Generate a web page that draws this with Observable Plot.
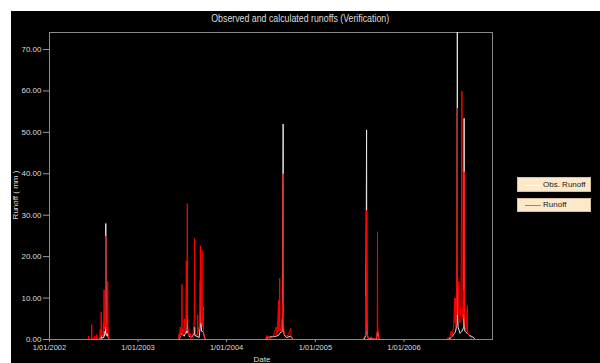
<!DOCTYPE html>
<html>
<head>
<meta charset="utf-8">
<script src="https://cdn.jsdelivr.net/npm/d3@7"></script>
<script src="https://cdn.jsdelivr.net/npm/@observablehq/plot@0.6"></script>
<style>
  html, body { margin:0; padding:0; background:#fff; width:600px; height:363px; overflow:hidden; }
  #panel { position:absolute; left:11px; top:11px; width:589px; height:352px; background:#000; overflow:hidden;
    font-family:"Liberation Sans",Arial,sans-serif; }
  #title { position:absolute; left:0; top:1px; width:578px; text-align:center; color:#ddd; font-size:11px; line-height:13px; white-space:nowrap; }
  #title span { display:inline-block; transform:scaleX(0.8); }
  #ylabel { position:absolute; left:4px; top:184px; transform:translate(-50%,-50%) rotate(-90deg); color:#ddd; font-size:8px; white-space:nowrap; }
  #xlabel { position:absolute; left:251px; top:344px; transform:translateX(-50%); color:#ddd; font-size:8px; line-height:9px; }
  .lg { position:absolute; left:506px; width:74px; background:#fde8c9; border:1px solid #d8bfa0; box-sizing:border-box; font-size:8px; color:#222; white-space:nowrap; }
  .lg span.sw { position:absolute; left:7px; width:16px; height:1px; }
  .lg span.tx { position:absolute; left:25px; }
  svg { position:absolute; left:0; top:0; }
</style>
</head>
<body>
<div id="panel">
  <div id="title"><span>Observed and calculated runoffs (Verification)</span></div>
  <div id="ylabel">Runoff ( mm )</div>
  <div id="xlabel">Date</div>
  <div class="lg" style="top:166px;height:15px;"><span class="sw" style="top:7px;background:#ffffff;"></span><span class="tx" style="top:2px;">Obs. Runoff</span></div>
  <div class="lg" style="top:187px;height:14px;"><span class="sw" style="top:6px;background:#ff5a5a;"></span><span class="tx" style="top:1px;">Runoff</span></div>
</div>
<script>
const yTicks = [0, 10, 20, 30, 40, 50, 60, 70];
const xTickYears = [2002, 2003, 2004, 2005, 2006];

const obsDates = [
"2002-01-01","2002-07-28","2002-07-29","2002-08-01","2002-08-02","2002-08-03","2002-08-13","2002-08-14","2002-08-15","2002-08-20",
"2002-08-21","2002-08-22","2002-08-23","2002-08-24","2002-08-26","2002-08-29","2002-08-31","2002-09-05",
"2003-06-20","2003-06-24","2003-07-01","2003-07-10","2003-07-19","2003-07-22","2003-07-23","2003-07-24","2003-07-27","2003-07-30",
"2003-08-10","2003-08-21","2003-08-22","2003-08-23","2003-09-10","2003-09-14","2003-09-15","2003-09-16","2003-09-20","2003-09-27",
"2003-10-02","2003-10-06",
"2004-06-10","2004-06-15","2004-07-23","2004-08-02","2004-08-07","2004-08-19","2004-08-21","2004-08-22","2004-08-23","2004-08-26",
"2004-09-05","2004-09-22","2004-10-01",
"2005-07-20","2005-07-28","2005-07-31","2005-08-01","2005-08-02","2005-08-06","2005-09-10","2005-09-14","2005-09-16","2005-09-20",
"2006-07-01","2006-07-15","2006-07-29","2006-08-02","2006-08-08","2006-08-09","2006-08-10","2006-08-12","2006-08-20","2006-08-28",
"2006-09-05","2006-09-06","2006-09-07","2006-09-09","2006-09-19","2006-09-28","2006-10-12","2006-10-17","2006-10-22","2006-12-31"
];
const obsValues = [
0,0,0.5,0.3,1.0,0.3,0.5,2,0.8,1.5,
28,6,3,1.5,0.8,1.5,0.5,0,
0,0.8,1.5,0.8,2,1.5,6,2,2,0.8,
0.5,1.5,3,1,0.5,3,14,5,2,1.8,
0.5,0,
0,0.5,0.8,1,1.5,2,52,3,2,1,
0.5,0.8,0,
0,1,50.6,5.4,1.5,0.3,0,2,1.5,0,
0,0.5,1.5,2,4,74.3,6,3,1.5,2,
3,53.4,4.2,2,1.5,1,0.6,0.3,0,0
];

const runDates = [
"2002-01-01","2002-06-10","2002-06-11","2002-06-12","2002-06-23","2002-06-24","2002-06-25","2002-07-05","2002-07-06","2002-07-07",
"2002-07-14","2002-07-15","2002-07-16","2002-07-28","2002-07-29","2002-07-30","2002-08-01","2002-08-02","2002-08-03","2002-08-06",
"2002-08-07","2002-08-10","2002-08-11","2002-08-12","2002-08-13","2002-08-14","2002-08-15","2002-08-17","2002-08-18","2002-08-19",
"2002-08-20","2002-08-21","2002-08-22","2002-08-23","2002-08-24","2002-08-25","2002-08-28","2002-08-29","2002-08-30","2002-08-31",
"2002-09-02","2002-09-05",
"2003-06-15","2003-06-20","2003-06-21","2003-06-24","2003-06-25","2003-06-30","2003-07-01","2003-07-02","2003-07-05","2003-07-08",
"2003-07-12","2003-07-13","2003-07-17","2003-07-19","2003-07-20","2003-07-22","2003-07-23","2003-07-24","2003-07-26","2003-07-27",
"2003-07-29","2003-08-05","2003-08-06","2003-08-15","2003-08-21","2003-08-22","2003-08-23","2003-08-25","2003-09-03","2003-09-04",
"2003-09-05","2003-09-13","2003-09-15","2003-09-16","2003-09-18","2003-09-22","2003-09-23","2003-09-25","2003-09-27","2003-09-28",
"2003-10-01","2003-10-05",
"2004-06-10","2004-06-15","2004-06-16","2004-06-25","2004-06-26","2004-07-10","2004-07-23","2004-07-24","2004-07-28","2004-08-02",
"2004-08-03","2004-08-06","2004-08-07","2004-08-08","2004-08-12","2004-08-15","2004-08-16","2004-08-20","2004-08-21","2004-08-22",
"2004-08-23","2004-08-25","2004-09-01","2004-09-10","2004-09-22","2004-09-23","2004-10-01",
"2005-07-15","2005-07-26","2005-07-27","2005-07-28","2005-07-29","2005-07-30","2005-07-31","2005-08-01","2005-08-02","2005-08-05",
"2005-08-10","2005-08-20","2005-08-22","2005-09-10","2005-09-13","2005-09-14","2005-09-15","2005-09-16","2005-09-17","2005-09-20",
"2006-06-25","2006-07-02","2006-07-03","2006-07-10","2006-07-15","2006-07-16","2006-07-25","2006-07-29","2006-07-30","2006-08-02",
"2006-08-03","2006-08-06","2006-08-08","2006-08-09","2006-08-10","2006-08-12","2006-08-15","2006-08-16","2006-08-20","2006-08-24",
"2006-08-28","2006-08-29","2006-09-01","2006-09-04","2006-09-05","2006-09-06","2006-09-07","2006-09-10","2006-09-14","2006-09-19",
"2006-09-20","2006-09-25","2006-10-05","2006-10-10","2006-12-31"
];
const runValues = [
0,0,0.8,0,0,3.6,0.3,0,0.8,0,
0,1.2,0.2,0,2.5,0.5,0.8,6.6,1.5,2.0,
0.8,1.0,4.0,1.2,3.5,12,4,2.5,7.5,3,
6,25,9,5,3,1.5,2,14,4,1.5,
0.3,0,
0,1.5,0.3,3,0.8,2,13.3,3,1,2.5,
5,1.5,3,19,4,8,32.8,6,2,2.5,
0.8,1.5,0.3,1,5,24.4,5,1.5,1,6,
1.5,4,22.6,8,4,21.5,6,3,8,2,
0.5,0,
0,1,0,0.8,0,0.6,3,0.8,1.5,9.4,
2,4,14.8,3,2,5,2,10,40,7,
3,1.5,0.8,1,2.7,0.5,0,
0,1,3,10.6,2,5.4,31.2,4,1.5,0.5,
0,0.7,0,0.3,2,26,3,2.6,1,0,
0,0.5,0,0.8,2,0.5,3,10,4,10,
3,8,37.8,55.8,12,6,14,5,4,9,
59.9,8,5,12,6,40.5,7,3,2,8.2,
2,1,0.3,0,0
];

const parse = d3.utcParse("%Y-%m-%d");
const obs = obsDates.map((d, i) => ({date: parse(d), value: obsValues[i]}));
const run = runDates.map((d, i) => ({date: parse(d), value: runValues[i]}));
const xTicks = xTickYears.map(y => new Date(Date.UTC(y, 0, 1)));

const chart = Plot.plot({
  width: 589,
  height: 352,
  marginLeft: 38,
  marginTop: 21,
  marginRight: 108,
  marginBottom: 24,
  style: {background: "transparent", color: "#ddd", fontSize: "8px",
    fontFamily: '"Liberation Sans",Arial,sans-serif'},
  x: {type: "utc", domain: [new Date(Date.UTC(2002,0,1)), new Date(Date.UTC(2007,0,1))]},
  y: {domain: [0, 74.1]},
  marks: [
    Plot.axisY({ticks: yTicks, tickFormat: d => d.toFixed(2), tickSize: 6, tickPadding: 2, stroke: "#999", fontSize: 8, label: null}),
    Plot.axisX({ticks: xTicks, tickFormat: d => "1/01/" + d.getUTCFullYear(), tickSize: 3, tickPadding: 2, stroke: "#999", fontSize: 7.5, label: null}),
    Plot.frame({stroke: "#8a8a8a"}),
    Plot.line(obs, {x: "date", y: "value", stroke: "#e6e6e6", strokeWidth: 1, clip: true}),
    Plot.line(run, {x: "date", y: "value", stroke: "#ff0000", strokeWidth: 1, clip: true})
  ]
});
document.getElementById("panel").appendChild(chart);
</script>
</body>
</html>
